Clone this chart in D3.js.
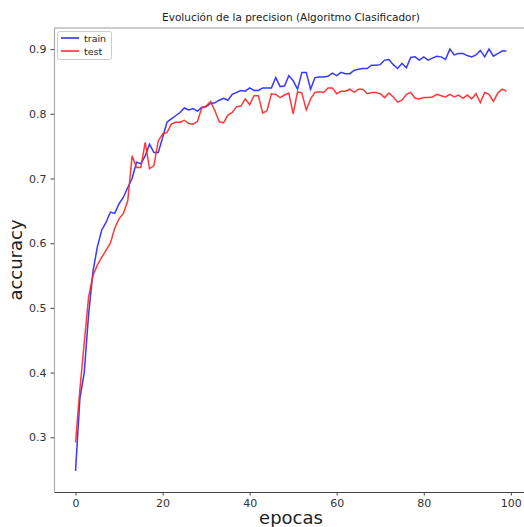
<!DOCTYPE html>
<html>
<head>
<meta charset="utf-8">
<script src="https://cdn.jsdelivr.net/npm/d3@7"></script>
<style>
  body { margin: 0; background: #fff; }
  svg { font-family: "DejaVu Sans", sans-serif; }
</style>
</head>
<body>
<svg width="524" height="527"></svg>
<script>
  // accuracy per epoch
  var trainAcc = [0.248, 0.36, 0.40, 0.49, 0.556, 0.594, 0.62, 0.632, 0.648, 0.646,
    0.661, 0.671, 0.686, 0.70, 0.725, 0.723, 0.735, 0.753, 0.74, 0.74,
    0.763, 0.787, 0.792, 0.797, 0.802, 0.809, 0.806, 0.808, 0.804, 0.81,
    0.811, 0.816, 0.817, 0.821, 0.824, 0.821, 0.83, 0.833, 0.836, 0.835,
    0.84, 0.836, 0.836, 0.84, 0.84, 0.84, 0.856, 0.842, 0.843, 0.859,
    0.851, 0.838, 0.864, 0.864, 0.838, 0.856, 0.857, 0.857, 0.858, 0.863,
    0.859, 0.864, 0.862, 0.862, 0.867, 0.869, 0.87, 0.87, 0.875, 0.875,
    0.876, 0.883, 0.884, 0.876, 0.87, 0.878, 0.871, 0.887, 0.888, 0.883,
    0.888, 0.883, 0.886, 0.889, 0.888, 0.884, 0.90, 0.891, 0.893, 0.893,
    0.89, 0.888, 0.891, 0.898, 0.888, 0.90, 0.889, 0.893, 0.897, 0.897];
  var testAcc = [0.292, 0.374, 0.446, 0.517, 0.55, 0.566, 0.578, 0.589, 0.60, 0.623,
    0.638, 0.646, 0.666, 0.735, 0.717, 0.717, 0.756, 0.715, 0.72, 0.758,
    0.769, 0.771, 0.784, 0.787, 0.787, 0.79, 0.785, 0.784, 0.788, 0.809,
    0.812, 0.819, 0.805, 0.788, 0.786, 0.798, 0.802, 0.811, 0.812, 0.823,
    0.814, 0.828, 0.828, 0.801, 0.805, 0.831, 0.83, 0.825, 0.829, 0.832,
    0.80, 0.834, 0.832, 0.806, 0.823, 0.833, 0.834, 0.833, 0.84, 0.84,
    0.831, 0.835, 0.835, 0.838, 0.833, 0.838, 0.838, 0.831, 0.833, 0.833,
    0.831, 0.825, 0.832, 0.826, 0.818, 0.821, 0.83, 0.833, 0.824, 0.823,
    0.825, 0.825, 0.826, 0.83, 0.828, 0.826, 0.83, 0.826, 0.829, 0.824,
    0.829, 0.823, 0.831, 0.817, 0.833, 0.83, 0.819, 0.832, 0.838, 0.835];
  var xTicks = [0, 20, 40, 60, 80, 100];
  var yTicks = [0.3, 0.4, 0.5, 0.6, 0.7, 0.8, 0.9];
  var seriesNames = ['train', 'test'];
  var seriesColors = ['#2222ff', '#ff2222'];

  var svg = d3.select('svg');
  var plotLeft = 54, plotTop = 28, plotBottom = 492, plotRight = 528;

  var x = d3.scaleLinear().domain([-4.95, 103.95]).range([plotLeft, plotRight]);
  var y = d3.scaleLinear().domain([0.2154, 0.9326]).range([plotBottom, plotTop]);

  // frame
  svg.append('line').attr('x1', plotLeft).attr('x2', plotRight).attr('y1', plotTop).attr('y2', plotTop)
    .attr('stroke', '#999').attr('stroke-width', 1);

  var gx = svg.append('g').attr('transform', 'translate(0,' + plotBottom + ')')
    .call(d3.axisBottom(x).tickValues(xTicks).tickSize(3.5).tickSizeOuter(0).tickPadding(4));
  var gy = svg.append('g').attr('transform', 'translate(' + plotLeft + ',0)')
    .call(d3.axisLeft(y).tickValues(yTicks).tickFormat(d3.format('.1f'))
      .tickSize(3.5).tickSizeOuter(0).tickPadding(4));

  gx.select('.domain').attr('stroke', '#444').attr('stroke-width', 1.2);
  gy.select('.domain').attr('stroke', '#aaa').attr('stroke-width', 1.2);
  svg.selectAll('.tick line').attr('stroke', '#444');
  svg.selectAll('.tick text').attr('fill', '#333').style('font-size', '11px')
    .style('font-family', '"DejaVu Sans", sans-serif');

  var line = d3.line().x(function (d, i) { return x(i); }).y(function (d) { return y(d); });

  [trainAcc, testAcc].forEach(function (s, k) {
    svg.append('path').datum(s)
      .attr('fill', 'none')
      .attr('stroke', seriesColors[k])
      .attr('stroke-opacity', 0.9)
      .attr('stroke-width', 1.5)
      .attr('d', line);
  });

  // title and axis labels
  svg.append('text').attr('x', 291).attr('y', 21).attr('text-anchor', 'middle')
    .style('font-size', '10.5px').attr('fill', '#222')
    .text('Evolución de la precision (Algoritmo Clasificador)');
  svg.append('text').attr('x', 291).attr('y', 524).attr('text-anchor', 'middle')
    .style('font-size', '18px').attr('fill', '#222').text('epocas');
  svg.append('text').attr('transform', 'translate(22,260) rotate(-90)').attr('text-anchor', 'middle')
    .style('font-size', '18px').attr('fill', '#222').text('accuracy');

  // legend
  var lg = svg.append('g');
  lg.append('rect').attr('x', 57.5).attr('y', 31.5).attr('width', 54).attr('height', 28)
    .attr('fill', '#fff').attr('stroke', '#ccc').attr('rx', 2);
  seriesNames.forEach(function (n, k) {
    var yy = 38 + k * 13;
    lg.append('line').attr('x1', 61).attr('x2', 79).attr('y1', yy).attr('y2', yy)
      .attr('stroke', seriesColors[k]).attr('stroke-width', 1.5);
    lg.append('text').attr('x', 84).attr('y', yy + 3.5).style('font-size', '9.5px')
      .attr('fill', '#222').text(n);
  });
</script>
</body>
</html>
